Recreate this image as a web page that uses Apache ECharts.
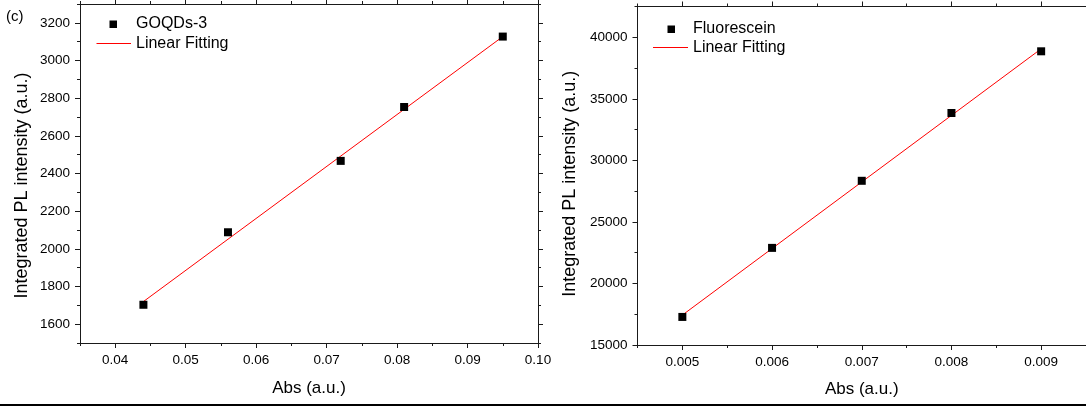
<!DOCTYPE html>
<html>
<head>
<meta charset="utf-8">
<script src="https://cdn.jsdelivr.net/npm/echarts@6/dist/echarts.min.js"></script>
<style>
  html, body { margin: 0; padding: 0; background: #fff; }
  #chart { width: 1086px; height: 406px; }
</style>
</head>
<body>
<div id="chart"></div>
<script>
// GOQDs-3 sample: absorbance vs integrated PL intensity
const goqdAbs = [0.044, 0.056, 0.072, 0.081, 0.095];
const goqdPL = [1703, 2088, 2467, 2753, 3127];
const goqdFit = [[0.044, 1720], [0.095, 3127]];

// Fluorescein reference
const fluoAbs = [0.005, 0.006, 0.007, 0.008, 0.009];
const fluoPL = [17280, 22890, 28340, 33850, 38860];
const fluoFit = [[0.005, 17430], [0.009, 39060]];

// Tick labels
const goqdXTicks = [0.04, 0.05, 0.06, 0.07, 0.08, 0.09, 0.10];
const goqdYTicks = [1600, 1800, 2000, 2200, 2400, 2600, 2800, 3000, 3200];
const fluoXTicks = [0.005, 0.006, 0.007, 0.008, 0.009];
const fluoYTicks = [15000, 20000, 25000, 30000, 35000, 40000];

const FONT = 'Liberation Sans, Arial, Helvetica, sans-serif';
const AXIS_COLOR = '#1a1a1a';

// Builds the four axes of one direction (main + major ticks, mirrored side + major ticks)
function makeAxes(dim, grid, cfg) {
  const pos = dim === 'x' ? ['bottom', 'top'] : ['left', 'right'];
  const base = {
    type: 'value', gridIndex: grid, min: cfg.min, max: cfg.max,
    splitLine: { show: false }, scale: false
  };
  const line = { show: true, lineStyle: { color: AXIS_COLOR, width: 1 } };
  const main = Object.assign({}, base, {
    position: pos[0], interval: cfg.minor,
    axisLine: line,
    axisTick: { show: true, inside: false, length: 3, lineStyle: { color: AXIS_COLOR } },
    axisLabel: {
      show: true, customValues: cfg.ticks, margin: 10,
      color: '#000', fontFamily: FONT, fontSize: 13.5,
      formatter: v => v.toFixed(cfg.digits)
    },
    name: cfg.name, nameLocation: 'middle', nameGap: cfg.nameGap,
    nameTextStyle: Object.assign({ color: '#000', fontFamily: FONT, fontSize: cfg.nameSize }, cfg.nameStyle || {})
  });
  const majorTicks = (p) => Object.assign({}, base, {
    position: p,
    axisLine: { show: false },
    axisTick: { show: true, inside: false, length: 5, customValues: cfg.ticks, lineStyle: { color: AXIS_COLOR } },
    axisLabel: { show: false }
  });
  const mirror = Object.assign({}, base, {
    position: pos[1], interval: cfg.minor,
    axisLine: line,
    axisTick: { show: true, inside: false, length: 3, lineStyle: { color: AXIS_COLOR } },
    axisLabel: { show: false }
  });
  return [main, majorTicks(pos[0]), mirror, majorTicks(pos[1])];
}

const xAxes = [].concat(
  makeAxes('x', 0, { min: 0.035, max: 0.10, minor: 0.005, ticks: goqdXTicks, digits: 2, name: 'Abs (a.u.)', nameGap: 37, nameSize: 17 }),
  makeAxes('x', 1, { min: 0.0045, max: 0.0095, minor: 0.0005, ticks: fluoXTicks, digits: 3, name: 'Abs (a.u.)', nameGap: 36, nameSize: 17 })
);
const yAxes = [].concat(
  makeAxes('y', 0, { min: 1500, max: 3300, minor: 100, ticks: goqdYTicks, digits: 0, name: 'Integrated PL intensity (a.u.)', nameGap: 49, nameSize: 18, nameStyle: { padding: [0, 24, 0, 0] } }),
  makeAxes('y', 1, { min: 15000, max: 42500, minor: 2500, ticks: fluoYTicks, digits: 0, name: 'Integrated PL intensity (a.u.)', nameGap: 58, nameSize: 18, nameStyle: { padding: [0, 16, 0, 0] } })
);

const chart = echarts.init(document.getElementById('chart'), null, { renderer: 'canvas' });
chart.setOption({
  animation: false,
  backgroundColor: '#fff',
  grid: [
    { left: 80, top: 4, width: 458, height: 339 },
    { left: 637.5, top: 6.5, width: 457, height: 338.5 }
  ],
  xAxis: xAxes,
  yAxis: yAxes,
  series: [
    {
      type: 'line', xAxisIndex: 0, yAxisIndex: 0, data: goqdFit,
      showSymbol: false, lineStyle: { color: '#ff0000', width: 1 }, z: 2
    },
    {
      type: 'scatter', xAxisIndex: 0, yAxisIndex: 0,
      data: goqdAbs.map((x, i) => [x, goqdPL[i]]),
      symbol: 'rect', symbolSize: 8, itemStyle: { color: '#000', opacity: 1 }, z: 3
    },
    {
      type: 'line', xAxisIndex: 4, yAxisIndex: 4, data: fluoFit,
      showSymbol: false, lineStyle: { color: '#ff0000', width: 1 }, z: 2
    },
    {
      type: 'scatter', xAxisIndex: 4, yAxisIndex: 4,
      data: fluoAbs.map((x, i) => [x, fluoPL[i]]),
      symbol: 'rect', symbolSize: 8, itemStyle: { color: '#000', opacity: 1 }, z: 3
    }
  ],
  graphic: [
    { type: 'text', left: 6, top: 9, style: { text: '(c)', fontFamily: FONT, fontSize: 15, fill: '#000' } },
    // legend, left panel
    { type: 'rect', shape: { x: 109.5, y: 20.5, width: 7.5, height: 7.5 }, style: { fill: '#000' } },
    { type: 'text', x: 136, y: 24, style: { text: 'GOQDs-3', fontFamily: FONT, fontSize: 16, fill: '#000', verticalAlign: 'middle' } },
    { type: 'line', shape: { x1: 96.5, y1: 43.5, x2: 131, y2: 43.5 }, style: { stroke: '#ff0000', lineWidth: 1 } },
    { type: 'text', x: 136, y: 44, style: { text: 'Linear Fitting', fontFamily: FONT, fontSize: 16, fill: '#000', verticalAlign: 'middle' } },
    // legend, right panel
    { type: 'rect', shape: { x: 667.5, y: 25.5, width: 7.5, height: 7.5 }, style: { fill: '#000' } },
    { type: 'text', x: 693, y: 29, style: { text: 'Fluorescein', fontFamily: FONT, fontSize: 16, fill: '#000', verticalAlign: 'middle' } },
    { type: 'line', shape: { x1: 653, y1: 47.5, x2: 688, y2: 47.5 }, style: { stroke: '#ff0000', lineWidth: 1 } },
    { type: 'text', x: 693, y: 48, style: { text: 'Linear Fitting', fontFamily: FONT, fontSize: 16, fill: '#000', verticalAlign: 'middle' } },
    // rule along the bottom edge
    { type: 'rect', shape: { x: 0, y: 404, width: 1086, height: 2 }, style: { fill: '#000' } }
  ]
});
</script>
</body>
</html>
